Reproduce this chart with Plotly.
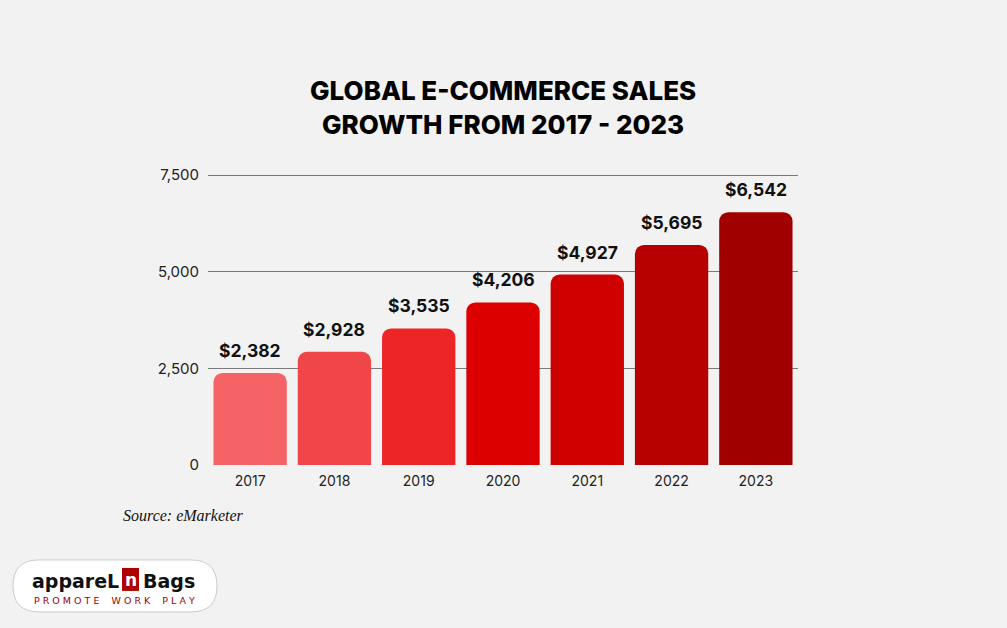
import plotly.graph_objects as go

years = ["2017", "2018", "2019", "2020", "2021", "2022", "2023"]
sales = [2382, 2928, 3535, 4206, 4927, 5695, 6542]
labels = ["$2,382", "$2,928", "$3,535", "$4,206", "$4,927", "$5,695", "$6,542"]
colors = ["#F66366", "#F0464A", "#EE2527", "#DC0000", "#CF0000", "#B70000", "#A10000"]
y_ticks = [0, 2500, 5000, 7500]
y_tick_text = ["0", "2,500", "5,000", "7,500"]

W, H = 1007, 628
Y_MAX = 7530
L, R, B = 208, 798, 465
T = B - (B - 175) * Y_MAX / 7500


def px(x):
    return (x - L) / (R - L)


def py(y):
    return (B - y) / (B - T)


fig = go.Figure()
fig.add_trace(go.Bar(
    x=years, y=sales,
    marker=dict(color=colors, cornerradius=9, line=dict(width=0)),
    cliponaxis=False, hoverinfo="skip",
))

# value labels above bars (category index positions)
annotations = [
    dict(x=i, y=v, text=lab, xref="x", yref="y", showarrow=False,
         yanchor="bottom", yshift=10,
         font=dict(family="Inter", size=17.5, color="#111111", weight=700))
    for i, (v, lab) in enumerate(zip(sales, labels))
]

# logo rounded rectangle
x0, x1, y0, y1, r = 13, 217, 560, 612, 26
path = (f"M {px(x0 + r)} {py(y0)} L {px(x1 - r)} {py(y0)} "
        f"Q {px(x1)} {py(y0)} {px(x1)} {py((y0 + y1) / 2)} "
        f"Q {px(x1)} {py(y1)} {px(x1 - r)} {py(y1)} "
        f"L {px(x0 + r)} {py(y1)} "
        f"Q {px(x0)} {py(y1)} {px(x0)} {py((y0 + y1) / 2)} "
        f"Q {px(x0)} {py(y0)} {px(x0 + r)} {py(y0)} Z")
shapes = [
    dict(type="path", xref="paper", yref="paper", path=path,
         fillcolor="#FFFFFF", line=dict(color="#CCCCCC", width=1)),
    dict(type="rect", xref="paper", yref="paper",
         x0=px(122), x1=px(139), y0=py(568), y1=py(591),
         fillcolor="#B00000", line=dict(width=0)),
]

annotations += [
    dict(text="GLOBAL E-COMMERCE SALES<br>GROWTH FROM 2017 - 2023",
         xref="paper", yref="paper", x=px(503), y=py(107),
         xanchor="center", yanchor="middle", showarrow=False,
         font=dict(family="Inter", size=26, color="#000000", weight=800),
         align="center"),
    dict(text="<i>Source: eMarketer</i>", xref="paper", yref="paper",
         x=px(121), y=py(516), xanchor="left", yanchor="middle", showarrow=False,
         font=dict(family="Liberation Serif", size=16, color="#111111")),
    dict(text="appareL", xref="paper", yref="paper", x=px(121), y=py(581),
         xanchor="right", yanchor="middle", showarrow=False,
         font=dict(family="DejaVu Sans", size=19, color="#111111", weight=700)),
    dict(text="n", xref="paper", yref="paper", x=px(130.5), y=py(580),
         xanchor="center", yanchor="middle", showarrow=False,
         font=dict(family="DejaVu Sans", size=17, color="#FFFFFF", weight=700)),
    dict(text="Bags", xref="paper", yref="paper", x=px(141), y=py(581),
         xanchor="left", yanchor="middle", showarrow=False,
         font=dict(family="DejaVu Sans", size=19, color="#111111", weight=700)),
    dict(text="P R O M O T E    W O R K    P L A Y", xref="paper", yref="paper",
         x=px(115), y=py(601), xanchor="center", yanchor="middle", showarrow=False,
         font=dict(family="DejaVu Sans", size=9.5, color="#A00000")),
]

fig.update_layout(
    width=W, height=H,
    margin=dict(l=L, r=W - R, t=T, b=H - B, pad=0),
    paper_bgcolor="#F2F2F2", plot_bgcolor="#F2F2F2",
    bargap=0.13, showlegend=False,
    shapes=shapes, annotations=annotations,
    xaxis=dict(type="category", range=[-0.5, len(years) - 0.5],
               showgrid=False, zeroline=False, showline=False,
               ticks="", ticklabelstandoff=6,
               tickfont=dict(family="Inter", size=14, color="#222222"),
               fixedrange=True),
    yaxis=dict(range=[0, Y_MAX], tickvals=y_ticks, ticktext=y_tick_text,
               showgrid=True, gridcolor="#7A7A7A", gridwidth=1,
               zeroline=False, showline=False, ticks="", ticklabelstandoff=8,
               tickfont=dict(family="Inter", size=15, color="#222222"),
               fixedrange=True),
)

fig.write_html(
    "out.html",
    config={"displayModeBar": False},
    post_script="document.body.style.margin='0';document.body.style.background='#F2F2F2';",
)
